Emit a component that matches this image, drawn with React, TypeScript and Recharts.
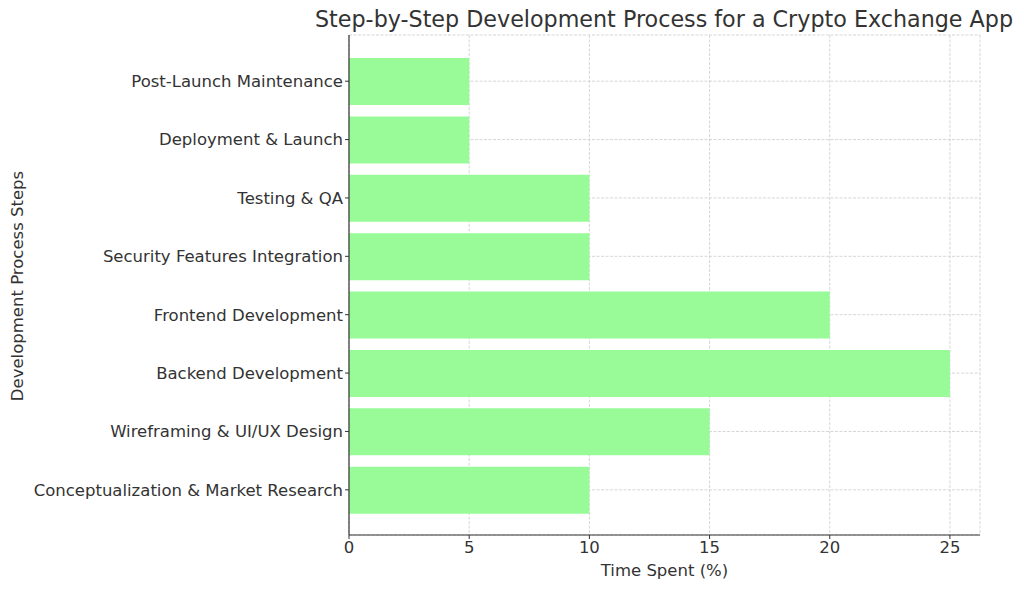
import React from 'react';
import {
  BarChart,
  Bar,
  XAxis,
  YAxis,
  CartesianGrid,
} from 'recharts';

// Development steps, bottom to top as drawn in the chart
const steps = [
  'Conceptualization & Market Research',
  'Wireframing & UI/UX Design',
  'Backend Development',
  'Frontend Development',
  'Security Features Integration',
  'Testing & QA',
  'Deployment & Launch',
  'Post-Launch Maintenance',
];

// Share of total time spent on each step (%)
const timeSpent = [10, 15, 25, 20, 10, 10, 5, 5];

const xTicks = [0, 5, 10, 15, 20, 25];

const FONT = '"DejaVu Sans", sans-serif';
const TEXT = '#333333';
const AXIS = '#333333';

const chartData = steps.map((step, i) => ({ step, time: timeSpent[i] }));

const App: React.FC = () => {
  return (
    <div style={{ position: 'absolute', left: 0, top: 0, width: 1024, height: 590, background: '#fff', fontFamily: FONT }}>
      <BarChart
        width={1024}
        height={590}
        data={chartData}
        layout="vertical"
        margin={{ top: 35, right: 44, bottom: 0, left: 9 }}
      >
        <XAxis
          type="number"
          dataKey="time"
          domain={[0, 26.25]}
          ticks={xTicks}
          allowDataOverflow
          height={55}
          tick={{ fontSize: 16.5, fill: TEXT, fontFamily: FONT }}
          tickSize={4}
          tickLine={{ stroke: AXIS }}
          axisLine={{ stroke: AXIS, strokeWidth: 1.2 }}
        />
        <YAxis
          type="category"
          dataKey="step"
          reversed
          width={340}
          padding={{ top: 17, bottom: 16 }}
          tick={{ fontSize: 16.5, fill: TEXT, fontFamily: FONT }}
          tickSize={4}
          tickLine={{ stroke: AXIS }}
          axisLine={{ stroke: AXIS, strokeWidth: 1.2 }}
          interval={0}
        />
        <Bar dataKey="time" fill="#98FB98" barSize={47} isAnimationActive={false} />
        <CartesianGrid stroke="#cccccc" strokeDasharray="3 1.5" strokeWidth={0.8} />
      </BarChart>
      {/* titles drawn on top of the chart */}
      <svg width={1024} height={590} style={{ position: 'absolute', left: 0, top: 0, pointerEvents: 'none' }}>
        <text
          x={315}
          y={27}
          fontSize={23}
          fill={TEXT}
          fontFamily={FONT}
          textLength={698}
          lengthAdjust="spacingAndGlyphs"
        >
          Step-by-Step Development Process for a Crypto Exchange App
        </text>
        <text x={664.5} y={576} fontSize={16.5} fill={TEXT} fontFamily={FONT} textAnchor="middle">
          Time Spent (%)
        </text>
        <text
          x={23}
          y={286}
          fontSize={16.5}
          fill={TEXT}
          fontFamily={FONT}
          textAnchor="middle"
          transform="rotate(-90 23 286)"
        >
          Development Process Steps
        </text>
      </svg>
    </div>
  );
};

export default App;
